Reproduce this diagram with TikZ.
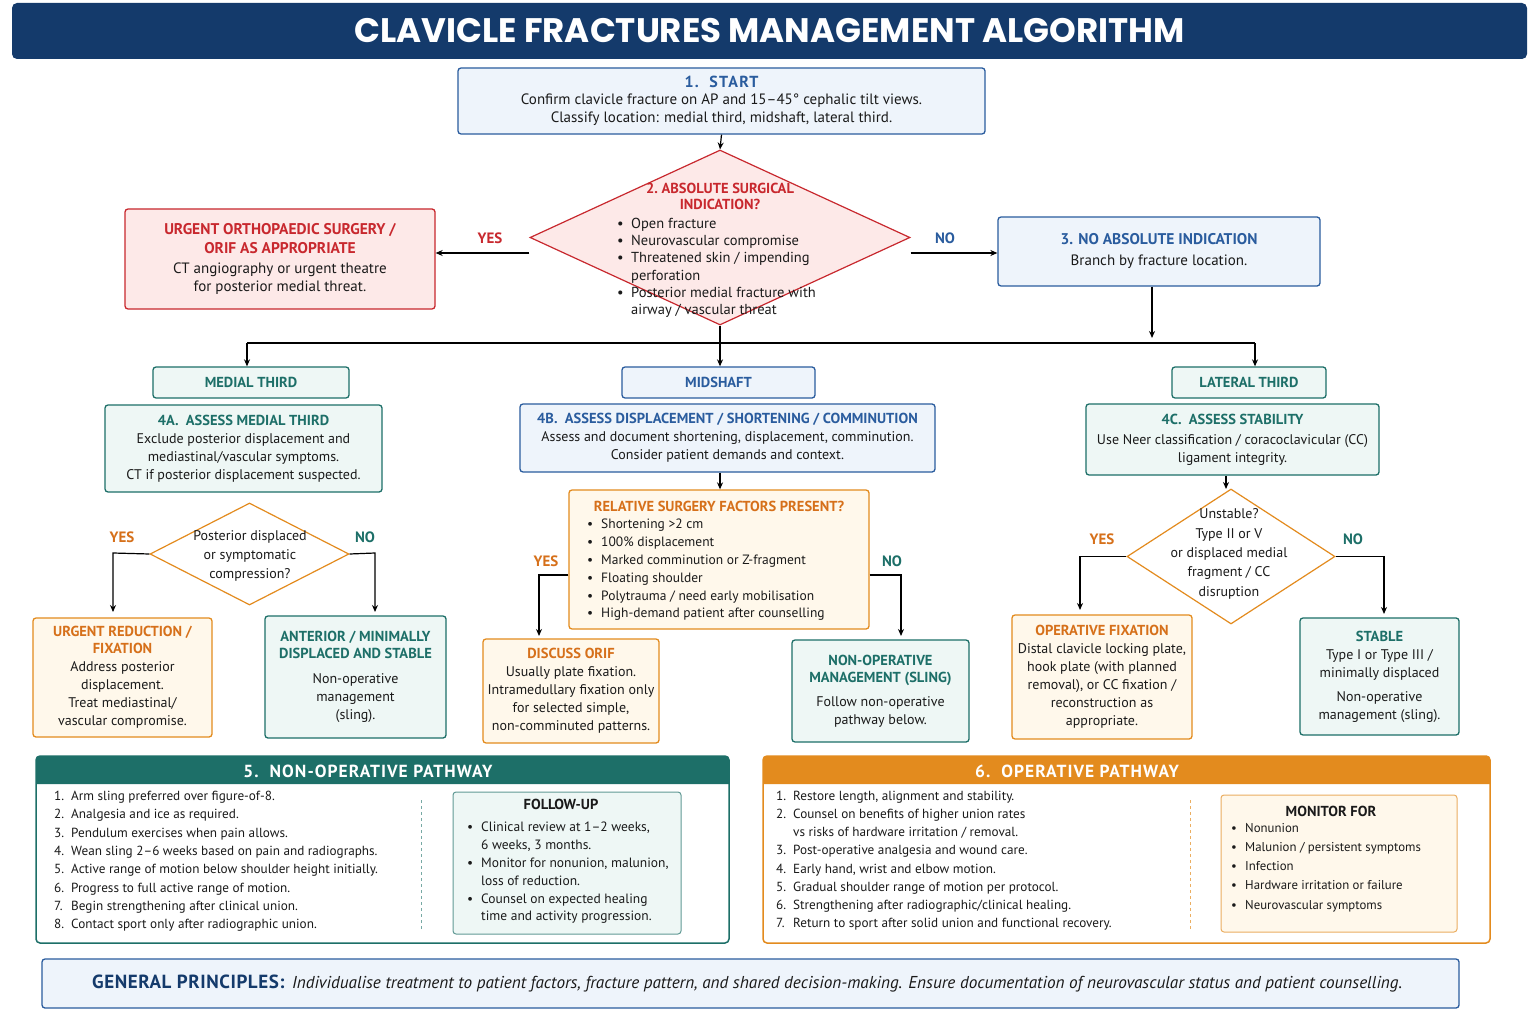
\documentclass[tikz,border=0pt]{standalone}
\usepackage{fontspec}
\setmainfont{PT Sans}
\newfontfamily\popf{Poppins}
\usetikzlibrary{shapes.geometric,arrows.meta}
\definecolor{navy}{HTML}{143A6B}
\definecolor{bluec}{HTML}{2A5C9E}
\definecolor{bluef}{HTML}{EEF4FB}
\definecolor{redc}{HTML}{C8282E}
\definecolor{redf}{HTML}{FDE9E8}
\definecolor{tealc}{HTML}{1D6F68}
\definecolor{tealf}{HTML}{EEF7F5}
\definecolor{orc}{HTML}{E38B1E}
\definecolor{ort}{HTML}{D6701A}
\definecolor{orf}{HTML}{FFF8EB}
\definecolor{txt}{HTML}{1A1A1A}
\newcommand{\bodyf}{\fontsize{14}{18}\selectfont}
\newcommand{\bigf}{\fontsize{15}{18}\selectfont}
\newcommand{\tb}[2]{\textcolor{#1}{\bfseries\fontsize{14.5}{18}\selectfont #2}}
\newcommand{\bl}{\makebox[14pt][l]{\textbullet}}
\newcommand{\nm}[1]{\makebox[17pt][l]{#1}}
\begin{document}
\begin{tikzpicture}[x=1pt,y=-1pt,
 box/.style={draw, rounded corners=3pt, line width=1.3pt, inner sep=2pt, align=center, font=\bodyf, text=txt},
 bbox/.style={box, draw=bluec, fill=bluef},
 rbox/.style={box, draw=redc, fill=redf},
 tbox/.style={box, draw=tealc, fill=tealf},
 obox/.style={box, draw=orc, fill=orf},
 dia/.style={diamond, draw, line width=1.2pt, inner sep=0pt},
 arr/.style={-{Stealth[length=7pt,width=6pt]}, line width=1.2pt, draw=black},
 lab/.style={font=\bfseries\fontsize{15}{18}\selectfont},
 txtn/.style={font=\bodyf, text=txt, inner sep=0pt, align=left},
 hdr/.style={font=\bfseries\fontsize{17.5}{18}\selectfont\addfontfeature{LetterSpace=6}, text=white}
]
\useasboundingbox (0,0) rectangle (1536,1024);
\fill[white] (0,0) rectangle (1536,1024);
% title
\node[fill=navy, rounded corners=5pt, minimum width=1515pt, minimum height=56pt, font=\popf\bfseries\fontsize{34}{38}\selectfont, text=white] (title) at (769.5,31) {CLAVICLE FRACTURES MANAGEMENT ALGORITHM};
% start
\node[bbox, font=\bigf, minimum width=527pt, minimum height=66pt] (start) at (721.5,101) {\tb{bluec}{\fontsize{16}{18}\selectfont\addfontfeature{LetterSpace=8}1.\ \ START}\\[-1pt]Confirm clavicle fracture on AP and 15–45° cephalic tilt views.\\Classify location: medial third, midshaft, lateral third.};
% diamond 2
\node[dia, draw=redc, fill=redf, minimum width=380pt, minimum height=175pt] (d2) at (720,237.5) {};
\node[txtn, align=center] (d2t) at (720,196) {\tb{redc}{2.\ ABSOLUTE SURGICAL}\\[-2pt]\tb{redc}{INDICATION?}};
\node[txtn, anchor=north west, font=\fontsize{14.5}{17.2}\selectfont] (d2b) at (617,218) {\bl Open fracture\\\bl Neurovascular compromise\\\bl Threatened skin / impending\\\hspace*{14pt}perforation\\\bl Posterior medial fracture with\\\hspace*{14pt}airway / vascular threat};
% urgent
\node[rbox, font=\bigf, minimum width=310pt, minimum height=100pt] (urg) at (280,259) {\tb{redc}{\fontsize{15.5}{18}\selectfont URGENT ORTHOPAEDIC SURGERY /}\\[1pt]\tb{redc}{\fontsize{15.5}{18}\selectfont ORIF AS APPROPRIATE}\\[2pt]CT angiography or urgent theatre\\for posterior medial threat.};
% box 3
\node[bbox, font=\bigf, minimum width=322pt, minimum height=69pt] (b3) at (1159,251.5) {\tb{bluec}{\fontsize{15.5}{18}\selectfont 3. NO ABSOLUTE INDICATION}\\[3pt]Branch by fracture location.};
\draw[arr] (start.south) -- (d2.north);
\draw[arr] (d2.west |- 0,253) coordinate (d2w) -- (d2w -| urg.east);
\draw[arr] (d2.east |- 0,253) coordinate (d2e) -- (d2e -| b3.west);
\node[lab, text=redc] (yes1) at (490,238) {YES};
\node[lab, text=bluec] (no1) at (945,238) {NO};
% tabs
\node[tbox, minimum width=196pt, minimum height=31pt] (medt) at (251,382.5) {\tb{tealc}{MEDIAL THIRD}};
\node[bbox, minimum width=193pt, minimum height=31pt] (midt) at (718.5,382.5) {\tb{bluec}{MIDSHAFT}};
\node[tbox, minimum width=154pt, minimum height=31pt] (latt) at (1249,382.5) {\tb{tealc}{LATERAL THIRD}};
\coordinate (j1) at (247,343);
\coordinate (j2) at (720,343);
\coordinate (j3) at (1255,343);
\coordinate (j4) at (1152,338);
\draw[line width=1.2pt] (j1) -- (j3);
\draw[line width=1.2pt] (d2.south) -- (j2);
\draw[arr] (b3.south -| j4) -- (j4);
\draw[arr] (j1) -- (j1 |- medt.north);
\draw[arr] (j2) -- (j2 |- midt.north);
\draw[arr] (j3) -- (j3 |- latt.north);
% 4A 4B 4C
\node[tbox, minimum width=277pt, minimum height=87pt] (a4) at (243.5,448.5) {\tb{tealc}{4A.\ \ ASSESS MEDIAL THIRD}\\Exclude posterior displacement and\\mediastinal/vascular symptoms.\\CT if posterior displacement suspected.};
\node[bbox, minimum width=415pt, minimum height=68pt] (b4) at (727.5,438) {\tb{bluec}{4B.\ \ ASSESS DISPLACEMENT / SHORTENING / COMMINUTION}\\Assess and document shortening, displacement, comminution.\\Consider patient demands and context.};
\node[tbox, minimum width=293pt, minimum height=71pt] (c4) at (1232.5,439.5) {\tb{tealc}{4C.\ \ ASSESS STABILITY}\\[2pt]Use Neer classification / coracoclavicular (CC)\\ligament integrity.};
% medial branch
\node[dia, draw=orc, fill=white, minimum width=199pt, minimum height=102pt] (da) at (249.5,554) {};
\node[txtn, align=center, font=\fontsize{14}{19}\selectfont] (dat) at (250,556) {Posterior displaced\\or symptomatic\\compression?};
\node[obox, minimum width=179pt, minimum height=119pt] (ur) at (122.5,677.5) {\tb{ort}{URGENT REDUCTION /}\\[-1pt]\tb{ort}{FIXATION}\\Address posterior\\displacement.\\Treat mediastinal/\\vascular compromise.};
\node[tbox, minimum width=181pt, minimum height=122pt] (ant) at (355.5,677) {\tb{tealc}{ANTERIOR / MINIMALLY}\\[-1pt]\tb{tealc}{DISPLACED AND STABLE}\\[7pt]Non-operative\\management\\(sling).};
\draw[arr] (da.west) -- (113,553) -- (113,612);
\draw[arr] (da.east) -- (375,553) -- (375,612);
\node[lab, text=ort] (yesa) at (122,537) {YES};
\node[lab, text=tealc] (noa) at (365,537) {NO};
% midshaft branch
\node[obox, minimum width=300pt, minimum height=139pt] (rel) at (719,559.5) {};
\node[txtn] (relt) at (719,506) {\tb{ort}{RELATIVE SURGERY FACTORS PRESENT?}};
\node[txtn, anchor=north west, font=\fontsize{13.5}{17.8}\selectfont] (relb) at (587,519) {\bl Shortening >2 cm\\\bl 100\% displacement\\\bl Marked comminution or Z-fragment\\\bl Floating shoulder\\\bl Polytrauma / need early mobilisation\\\bl High-demand patient after counselling};
\draw[arr] (b4.south -| 720,0) -- (rel.north -| 720,0);
\node[obox, minimum width=176pt, minimum height=104pt] (orif) at (571,691) {\tb{ort}{DISCUSS ORIF}\\Usually plate fixation.\\Intramedullary fixation only\\for selected simple,\\non-comminuted patterns.};
\node[tbox, minimum width=177pt, minimum height=102pt] (nonop) at (880.5,691) {\tb{tealc}{NON-OPERATIVE}\\[-1pt]\tb{tealc}{MANAGEMENT (SLING)}\\[6pt]Follow non-operative\\pathway below.};
\draw[arr] (rel.west |- 0,575) -- (539,575) -- (539,636);
\draw[arr] (rel.east |- 0,575) -- (901,575) -- (901,636);
\node[lab, text=ort] (yesm) at (546,561) {YES};
\node[lab, text=tealc] (nom) at (892,561) {NO};
% lateral branch
\node[dia, draw=orc, fill=white, minimum width=208pt, minimum height=135pt] (dc) at (1231,556.5) {};
\node[txtn, align=center, font=\fontsize{14}{19.3}\selectfont] (dct) at (1229,554) {Unstable?\\Type II or V\\or displaced medial\\fragment / CC\\disruption};
\draw[arr] (c4.south -| 1226,0) -- (1226,489);
\node[obox, minimum width=180pt, minimum height=124pt] (opf) at (1102,677) {\tb{ort}{OPERATIVE FIXATION}\\Distal clavicle locking plate,\\hook plate (with planned\\removal), or CC fixation /\\reconstruction as\\appropriate.};
\node[tbox, minimum width=159pt, minimum height=117pt] (stab) at (1379.5,676.5) {\tb{tealc}{STABLE}\\Type I or Type III /\\minimally displaced\\[6pt]Non-operative\\management (sling).};
\draw[arr] (dc.west) -- (1080,556.5) -- (1080,610);
\draw[arr] (dc.east) -- (1384,556.5) -- (1384,614);
\node[lab, text=ort] (yesc) at (1102,539) {YES};
\node[lab, text=tealc] (noc) at (1353,539) {NO};
% panel 5
\node[draw=tealc, line width=1.5pt, rounded corners=4pt, minimum width=693pt, minimum height=187pt, fill=white] (p5) at (382.5,849.5) {};
\fill[tealc, rounded corners=4pt] (36,784) -- (36,756) -- (729,756) [sharp corners] -- (729,784) -- cycle;
\node[hdr] (p5h) at (368,771) {5.\ \ NON-OPERATIVE PATHWAY};
\node[txtn, anchor=north west, font=\fontsize{13.2}{18.3}\selectfont] (p5l) at (54,791) {\nm{1.}Arm sling preferred over figure-of-8.\\\nm{2.}Analgesia and ice as required.\\\nm{3.}Pendulum exercises when pain allows.\\\nm{4.}Wean sling 2–6 weeks based on pain and radiographs.\\\nm{5.}Active range of motion below shoulder height initially.\\\nm{6.}Progress to full active range of motion.\\\nm{7.}Begin strengthening after clinical union.\\\nm{8.}Contact sport only after radiographic union.};
\coordinate (s5a) at (421,800); \coordinate (s5b) at (421,930);
\draw[tealc!60, dashed, line width=0.8pt] (s5a) -- (s5b);
\node[tbox, draw=tealc!70, line width=1pt, minimum width=228pt, minimum height=142pt] (fu) at (567,863) {};
\node[txtn] (fut) at (561,804) {\tb{txt}{FOLLOW-UP}};
\node[txtn, anchor=north west, font=\fontsize{13.5}{17.8}\selectfont] (fub) at (467,822) {\bl Clinical review at 1–2 weeks,\\\hspace*{14pt}6 weeks, 3 months.\\\bl Monitor for nonunion, malunion,\\\hspace*{14pt}loss of reduction.\\\bl Counsel on expected healing\\\hspace*{14pt}time and activity progression.};
% panel 6
\node[draw=orc, line width=1.5pt, rounded corners=4pt, minimum width=727pt, minimum height=187pt, fill=white] (p6) at (1126.5,849.5) {};
\fill[orc, rounded corners=4pt] (763,784) -- (763,756) -- (1490,756) [sharp corners] -- (1490,784) -- cycle;
\node[hdr] (p6h) at (1077,771) {6.\ \ OPERATIVE PATHWAY};
\node[txtn, anchor=north west, font=\fontsize{13.2}{18.1}\selectfont] (p6l) at (776,791) {\nm{1.}Restore length, alignment and stability.\\\nm{2.}Counsel on benefits of higher union rates\\\nm{}vs risks of hardware irritation / removal.\\\nm{3.}Post-operative analgesia and wound care.\\\nm{4.}Early hand, wrist and elbow motion.\\\nm{5.}Gradual shoulder range of motion per protocol.\\\nm{6.}Strengthening after radiographic/clinical healing.\\\nm{7.}Return to sport after solid union and functional recovery.};
\coordinate (s6a) at (1190,800); \coordinate (s6b) at (1190,930);
\draw[orc!70, dashed, line width=0.8pt] (s6a) -- (s6b);
\node[obox, draw=orc!70, line width=1pt, minimum width=236pt, minimum height=137pt] (mon) at (1339,863.5) {};
\node[txtn] (mont) at (1331,811) {\tb{txt}{MONITOR FOR}};
\node[txtn, anchor=north west, font=\fontsize{12.8}{19.2}\selectfont] (monb) at (1231,823) {\makebox[14pt][l]{\textbullet}Nonunion\\\makebox[14pt][l]{\textbullet}Malunion / persistent symptoms\\\makebox[14pt][l]{\textbullet}Infection\\\makebox[14pt][l]{\textbullet}Hardware irritation or failure\\\makebox[14pt][l]{\textbullet}Neurovascular symptoms};
% general principles
\node[bbox, minimum width=1417pt, minimum height=49pt] (gp) at (750.5,983.5) {};
\node[txtn, anchor=west] (gpt) at (92,983.5) {\textcolor{navy}{\bfseries\fontsize{19}{20}\selectfont\addfontfeature{LetterSpace=3}GENERAL PRINCIPLES:}\ \ {\itshape\fontsize{17.2}{18}\selectfont Individualise treatment to patient factors, fracture pattern, and shared decision-making. Ensure documentation of neurovascular status and patient counselling.}};
\end{tikzpicture}
\end{document}
